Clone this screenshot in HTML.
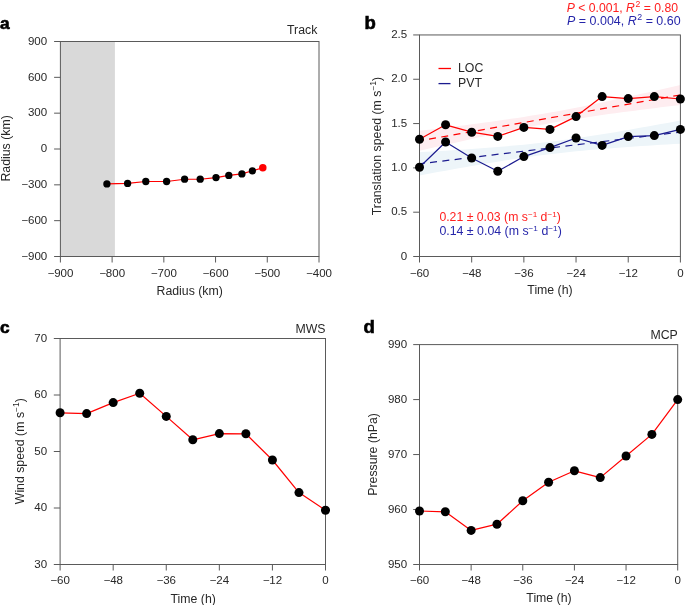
<!DOCTYPE html>
<html><head><meta charset="utf-8"><style>
html,body{margin:0;padding:0;background:#fff;}
body{width:685px;height:605px;overflow:hidden;}
svg{display:block;font-family:"Liberation Sans",sans-serif;will-change:transform;}
</style></head><body>
<svg width="685" height="605" viewBox="0 0 685 605">
<rect x="60.4" y="41.5" width="54.5" height="215" fill="#d9d9d9"/>
<rect x="60.4" y="41.5" width="258.6" height="215" fill="none" stroke="#5a5a5a" stroke-width="1"/>
<line x1="54.1" y1="41.5" x2="60.4" y2="41.5" stroke="#5a5a5a" stroke-width="1"/>
<text transform="translate(47.2,44.7) scale(1.1,1)" font-size="10.5" text-anchor="end" fill="#282828" font-weight="normal">900</text>
<line x1="54.1" y1="77.33" x2="60.4" y2="77.33" stroke="#5a5a5a" stroke-width="1"/>
<text transform="translate(47.2,80.53) scale(1.1,1)" font-size="10.5" text-anchor="end" fill="#282828" font-weight="normal">600</text>
<line x1="54.1" y1="113.17" x2="60.4" y2="113.17" stroke="#5a5a5a" stroke-width="1"/>
<text transform="translate(47.2,116.37) scale(1.1,1)" font-size="10.5" text-anchor="end" fill="#282828" font-weight="normal">300</text>
<line x1="54.1" y1="149" x2="60.4" y2="149" stroke="#5a5a5a" stroke-width="1"/>
<text transform="translate(47.2,152.2) scale(1.1,1)" font-size="10.5" text-anchor="end" fill="#282828" font-weight="normal">0</text>
<line x1="54.1" y1="184.83" x2="60.4" y2="184.83" stroke="#5a5a5a" stroke-width="1"/>
<text transform="translate(47.2,188.03) scale(1.1,1)" font-size="10.5" text-anchor="end" fill="#282828" font-weight="normal">−300</text>
<line x1="54.1" y1="220.67" x2="60.4" y2="220.67" stroke="#5a5a5a" stroke-width="1"/>
<text transform="translate(47.2,223.87) scale(1.1,1)" font-size="10.5" text-anchor="end" fill="#282828" font-weight="normal">−600</text>
<line x1="54.1" y1="256.5" x2="60.4" y2="256.5" stroke="#5a5a5a" stroke-width="1"/>
<text transform="translate(47.2,259.7) scale(1.1,1)" font-size="10.5" text-anchor="end" fill="#282828" font-weight="normal">−900</text>
<line x1="60.4" y1="256.5" x2="60.4" y2="262.5" stroke="#5a5a5a" stroke-width="1"/>
<text transform="translate(60.4,276.6) scale(1.1,1)" font-size="10.5" text-anchor="middle" fill="#282828" font-weight="normal">−900</text>
<line x1="112.12" y1="256.5" x2="112.12" y2="262.5" stroke="#5a5a5a" stroke-width="1"/>
<text transform="translate(112.12,276.6) scale(1.1,1)" font-size="10.5" text-anchor="middle" fill="#282828" font-weight="normal">−800</text>
<line x1="163.84" y1="256.5" x2="163.84" y2="262.5" stroke="#5a5a5a" stroke-width="1"/>
<text transform="translate(163.84,276.6) scale(1.1,1)" font-size="10.5" text-anchor="middle" fill="#282828" font-weight="normal">−700</text>
<line x1="215.56" y1="256.5" x2="215.56" y2="262.5" stroke="#5a5a5a" stroke-width="1"/>
<text transform="translate(215.56,276.6) scale(1.1,1)" font-size="10.5" text-anchor="middle" fill="#282828" font-weight="normal">−600</text>
<line x1="267.28" y1="256.5" x2="267.28" y2="262.5" stroke="#5a5a5a" stroke-width="1"/>
<text transform="translate(267.28,276.6) scale(1.1,1)" font-size="10.5" text-anchor="middle" fill="#282828" font-weight="normal">−500</text>
<line x1="319" y1="256.5" x2="319" y2="262.5" stroke="#5a5a5a" stroke-width="1"/>
<text transform="translate(319,276.6) scale(1.1,1)" font-size="10.5" text-anchor="middle" fill="#282828" font-weight="normal">−400</text>
<text x="189.7" y="295" font-size="12.3" text-anchor="middle" fill="#282828" font-weight="normal">Radius (km)</text>
<text transform="translate(10.2,148.4) rotate(-90)" font-size="12.3" text-anchor="middle" fill="#282828">Radius (km)</text>
<text x="302.2" y="34.05" font-size="12.3" text-anchor="middle" fill="#282828" font-weight="normal">Track</text>
<text transform="translate(-0.1,28.7) scale(1.06,1)" font-size="16.3" text-anchor="start" fill="#000" font-weight="bold" stroke="#000" stroke-width="0.6">a</text>
<polyline points="106.9,183.9 127.6,183.4 145.8,181.5 166.6,181.5 184.6,179.2 200.2,179.2 216,177.6 228.8,175.4 241.9,173.9 252.4,170.8 262.8,167.8" fill="none" stroke="#ff0000" stroke-width="1.1" stroke-linejoin="round"/>
<circle cx="106.9" cy="183.9" r="3.65" fill="#000"/>
<circle cx="127.6" cy="183.4" r="3.65" fill="#000"/>
<circle cx="145.8" cy="181.5" r="3.65" fill="#000"/>
<circle cx="166.6" cy="181.5" r="3.65" fill="#000"/>
<circle cx="184.6" cy="179.2" r="3.65" fill="#000"/>
<circle cx="200.2" cy="179.2" r="3.65" fill="#000"/>
<circle cx="216" cy="177.6" r="3.65" fill="#000"/>
<circle cx="228.8" cy="175.4" r="3.65" fill="#000"/>
<circle cx="241.9" cy="173.9" r="3.65" fill="#000"/>
<circle cx="252.4" cy="170.8" r="3.65" fill="#000"/>
<circle cx="262.8" cy="167.8" r="3.75" fill="#ff0000"/>
<path d="M419.5,130.85 L426.02,130.05 L432.55,129.25 L439.07,128.45 L445.59,127.64 L452.11,126.82 L458.63,125.99 L465.16,125.15 L471.68,124.3 L478.2,123.43 L484.73,122.55 L491.25,121.66 L497.77,120.75 L504.29,119.82 L510.81,118.86 L517.34,117.88 L523.86,116.88 L530.38,115.84 L536.9,114.77 L543.43,113.68 L549.95,112.55 L556.47,111.38 L563,110.18 L569.52,108.95 L576.04,107.69 L582.56,106.4 L589.09,105.09 L595.61,103.75 L602.13,102.38 L608.65,101 L615.17,99.6 L621.7,98.18 L628.22,96.75 L634.74,95.31 L641.26,93.85 L647.79,92.38 L654.31,90.91 L660.83,89.43 L667.36,87.94 L673.88,86.44 L680.4,84.94 L680.4,104.94 L673.88,105.73 L667.36,106.53 L660.83,107.33 L654.31,108.15 L647.79,108.97 L641.26,109.8 L634.74,110.64 L628.22,111.49 L621.7,112.35 L615.17,113.23 L608.65,114.12 L602.13,115.03 L595.61,115.97 L589.09,116.92 L582.56,117.9 L576.04,118.91 L569.52,119.94 L563,121.01 L556.47,122.11 L549.95,123.24 L543.43,124.4 L536.9,125.6 L530.38,126.83 L523.86,128.09 L517.34,129.38 L510.81,130.69 L504.29,132.03 L497.77,133.4 L491.25,134.78 L484.73,136.18 L478.2,137.6 L471.68,139.03 L465.16,140.48 L458.63,141.93 L452.11,143.4 L445.59,144.87 L439.07,146.36 L432.55,147.85 L426.02,149.34 L419.5,150.85Z" fill="#feedf0"/>
<path d="M419.5,152.23 L426.02,151.85 L432.55,151.46 L439.07,151.06 L445.59,150.66 L452.11,150.24 L458.63,149.82 L465.16,149.38 L471.68,148.94 L478.2,148.47 L484.73,147.99 L491.25,147.49 L497.77,146.97 L504.29,146.43 L510.81,145.86 L517.34,145.26 L523.86,144.63 L530.38,143.97 L536.9,143.27 L543.43,142.54 L549.95,141.76 L556.47,140.95 L563,140.1 L569.52,139.21 L576.04,138.29 L582.56,137.33 L589.09,136.34 L595.61,135.32 L602.13,134.28 L608.65,133.22 L615.17,132.13 L621.7,131.02 L628.22,129.9 L634.74,128.76 L641.26,127.61 L647.79,126.45 L654.31,125.27 L660.83,124.09 L667.36,122.9 L673.88,121.7 L680.4,120.5 L680.4,143.7 L673.88,144.08 L667.36,144.47 L660.83,144.87 L654.31,145.27 L647.79,145.68 L641.26,146.11 L634.74,146.54 L628.22,146.99 L621.7,147.46 L615.17,147.94 L608.65,148.43 L602.13,148.95 L595.61,149.5 L589.09,150.07 L582.56,150.67 L576.04,151.29 L569.52,151.96 L563,152.65 L556.47,153.39 L549.95,154.16 L543.43,154.98 L536.9,155.83 L530.38,156.72 L523.86,157.64 L517.34,158.6 L510.81,159.59 L504.29,160.6 L497.77,161.65 L491.25,162.71 L484.73,163.8 L478.2,164.91 L471.68,166.03 L465.16,167.17 L458.63,168.32 L452.11,169.48 L445.59,170.65 L439.07,171.83 L432.55,173.03 L426.02,174.22 L419.5,175.43Z" fill="#edf5f9"/>
<rect x="419.5" y="34.95" width="260.9" height="221.55" fill="none" stroke="#5a5a5a" stroke-width="1"/>
<line x1="413.2" y1="34.95" x2="419.5" y2="34.95" stroke="#5a5a5a" stroke-width="1"/>
<text transform="translate(407.2,38.15) scale(1.1,1)" font-size="10.5" text-anchor="end" fill="#282828" font-weight="normal">2.5</text>
<line x1="413.2" y1="79.26" x2="419.5" y2="79.26" stroke="#5a5a5a" stroke-width="1"/>
<text transform="translate(407.2,82.46) scale(1.1,1)" font-size="10.5" text-anchor="end" fill="#282828" font-weight="normal">2.0</text>
<line x1="413.2" y1="123.57" x2="419.5" y2="123.57" stroke="#5a5a5a" stroke-width="1"/>
<text transform="translate(407.2,126.77) scale(1.1,1)" font-size="10.5" text-anchor="end" fill="#282828" font-weight="normal">1.5</text>
<line x1="413.2" y1="167.88" x2="419.5" y2="167.88" stroke="#5a5a5a" stroke-width="1"/>
<text transform="translate(407.2,171.08) scale(1.1,1)" font-size="10.5" text-anchor="end" fill="#282828" font-weight="normal">1.0</text>
<line x1="413.2" y1="212.19" x2="419.5" y2="212.19" stroke="#5a5a5a" stroke-width="1"/>
<text transform="translate(407.2,215.39) scale(1.1,1)" font-size="10.5" text-anchor="end" fill="#282828" font-weight="normal">0.5</text>
<line x1="413.2" y1="256.5" x2="419.5" y2="256.5" stroke="#5a5a5a" stroke-width="1"/>
<text transform="translate(407.2,259.7) scale(1.1,1)" font-size="10.5" text-anchor="end" fill="#282828" font-weight="normal">0</text>
<line x1="419.5" y1="256.5" x2="419.5" y2="262.5" stroke="#5a5a5a" stroke-width="1"/>
<text transform="translate(419.5,276.6) scale(1.1,1)" font-size="10.5" text-anchor="middle" fill="#282828" font-weight="normal">−60</text>
<line x1="471.68" y1="256.5" x2="471.68" y2="262.5" stroke="#5a5a5a" stroke-width="1"/>
<text transform="translate(471.68,276.6) scale(1.1,1)" font-size="10.5" text-anchor="middle" fill="#282828" font-weight="normal">−48</text>
<line x1="523.86" y1="256.5" x2="523.86" y2="262.5" stroke="#5a5a5a" stroke-width="1"/>
<text transform="translate(523.86,276.6) scale(1.1,1)" font-size="10.5" text-anchor="middle" fill="#282828" font-weight="normal">−36</text>
<line x1="576.04" y1="256.5" x2="576.04" y2="262.5" stroke="#5a5a5a" stroke-width="1"/>
<text transform="translate(576.04,276.6) scale(1.1,1)" font-size="10.5" text-anchor="middle" fill="#282828" font-weight="normal">−24</text>
<line x1="628.22" y1="256.5" x2="628.22" y2="262.5" stroke="#5a5a5a" stroke-width="1"/>
<text transform="translate(628.22,276.6) scale(1.1,1)" font-size="10.5" text-anchor="middle" fill="#282828" font-weight="normal">−12</text>
<line x1="680.4" y1="256.5" x2="680.4" y2="262.5" stroke="#5a5a5a" stroke-width="1"/>
<text transform="translate(680.4,276.6) scale(1.1,1)" font-size="10.5" text-anchor="middle" fill="#282828" font-weight="normal">0</text>
<text x="550" y="294.4" font-size="12.3" text-anchor="middle" fill="#282828" font-weight="normal">Time (h)</text>
<text transform="translate(380.6,146) rotate(-90)" font-size="12.3" text-anchor="middle" fill="#282828">Translation speed (m s<tspan dy="-5" font-size="8.5">−1</tspan><tspan dy="5">)</tspan></text>
<text transform="translate(364.4,28.6) scale(1.06,1)" font-size="17.5" text-anchor="start" fill="#000" font-weight="bold" stroke="#000" stroke-width="0.6">b</text>
<line x1="419.5" y1="140.85" x2="680.4" y2="94.94" stroke="#ff0000" stroke-width="1.2" stroke-dasharray="7 5.4" stroke-dashoffset="2.7"/>
<line x1="419.5" y1="163.83" x2="680.4" y2="132.1" stroke="#1b1b8f" stroke-width="1.2" stroke-dasharray="7 5.4" stroke-dashoffset="1.8"/>
<polyline points="419.5,139.2 445.59,124.8 471.68,132.2 497.77,136.4 523.86,127.4 549.95,129.4 576.04,116.6 602.13,96.6 628.22,98.6 654.31,96.6 680.4,99" fill="none" stroke="#ff0000" stroke-width="1.2" stroke-linejoin="round"/>
<polyline points="419.5,167.2 445.59,142 471.68,158 497.77,171.2 523.86,156.6 549.95,147.6 576.04,138 602.13,145.4 628.22,136.6 654.31,135.6 680.4,129.4" fill="none" stroke="#1b1b8f" stroke-width="1.2" stroke-linejoin="round"/>
<circle cx="419.5" cy="139.2" r="4.5" fill="#000"/>
<circle cx="445.59" cy="124.8" r="4.5" fill="#000"/>
<circle cx="471.68" cy="132.2" r="4.5" fill="#000"/>
<circle cx="497.77" cy="136.4" r="4.5" fill="#000"/>
<circle cx="523.86" cy="127.4" r="4.5" fill="#000"/>
<circle cx="549.95" cy="129.4" r="4.5" fill="#000"/>
<circle cx="576.04" cy="116.6" r="4.5" fill="#000"/>
<circle cx="602.13" cy="96.6" r="4.5" fill="#000"/>
<circle cx="628.22" cy="98.6" r="4.5" fill="#000"/>
<circle cx="654.31" cy="96.6" r="4.5" fill="#000"/>
<circle cx="680.4" cy="99" r="4.5" fill="#000"/>
<circle cx="419.5" cy="167.2" r="4.5" fill="#000"/>
<circle cx="445.59" cy="142" r="4.5" fill="#000"/>
<circle cx="471.68" cy="158" r="4.5" fill="#000"/>
<circle cx="497.77" cy="171.2" r="4.5" fill="#000"/>
<circle cx="523.86" cy="156.6" r="4.5" fill="#000"/>
<circle cx="549.95" cy="147.6" r="4.5" fill="#000"/>
<circle cx="576.04" cy="138" r="4.5" fill="#000"/>
<circle cx="602.13" cy="145.4" r="4.5" fill="#000"/>
<circle cx="628.22" cy="136.6" r="4.5" fill="#000"/>
<circle cx="654.31" cy="135.6" r="4.5" fill="#000"/>
<circle cx="680.4" cy="129.4" r="4.5" fill="#000"/>
<line x1="438.5" y1="68.5" x2="451" y2="68.5" stroke="#ff0000" stroke-width="1.3"/>
<line x1="438.5" y1="83.6" x2="450.5" y2="83.6" stroke="#1b1b8f" stroke-width="1.3"/>
<text x="458" y="72.4" font-size="12.3" text-anchor="start" fill="#282828" font-weight="normal">LOC</text>
<text x="458" y="87.3" font-size="12.3" text-anchor="start" fill="#282828" font-weight="normal">PVT</text>
<text transform="translate(678,11.5) scale(1.018,1)" font-size="12" text-anchor="end" fill="#ff2020"><tspan font-style="italic">P</tspan> &lt; 0.001, <tspan font-style="italic">R</tspan><tspan dy="-5" dx="0.6" font-size="8.5">2</tspan><tspan dy="5"> = 0.80</tspan></text>
<text transform="translate(680.6,25.4) scale(1.038,1)" font-size="12" text-anchor="end" fill="#2626aa"><tspan font-style="italic">P</tspan> = 0.004, <tspan font-style="italic">R</tspan><tspan dy="-5" dx="0.6" font-size="8.5">2</tspan><tspan dy="5"> = 0.60</tspan></text>
<text transform="translate(439.4,220.6) scale(1.022,1)" font-size="12" fill="#ff2020">0.21 ± 0.03 (m s<tspan dy="-4" font-size="8">−1</tspan><tspan dy="4"> d</tspan><tspan dy="-4" font-size="8">−1</tspan><tspan dy="4">)</tspan></text>
<text transform="translate(439.4,235) scale(1.03,1)" font-size="12" fill="#2626aa">0.14 ± 0.04 (m s<tspan dy="-4" font-size="8">−1</tspan><tspan dy="4"> d</tspan><tspan dy="-4" font-size="8">−1</tspan><tspan dy="4">)</tspan></text>
<rect x="60.1" y="338.5" width="265.4" height="226" fill="none" stroke="#5a5a5a" stroke-width="1"/>
<line x1="53.8" y1="338.5" x2="60.1" y2="338.5" stroke="#5a5a5a" stroke-width="1"/>
<text transform="translate(47.2,341.7) scale(1.1,1)" font-size="10.5" text-anchor="end" fill="#282828" font-weight="normal">70</text>
<line x1="53.8" y1="395" x2="60.1" y2="395" stroke="#5a5a5a" stroke-width="1"/>
<text transform="translate(47.2,398.2) scale(1.1,1)" font-size="10.5" text-anchor="end" fill="#282828" font-weight="normal">60</text>
<line x1="53.8" y1="451.5" x2="60.1" y2="451.5" stroke="#5a5a5a" stroke-width="1"/>
<text transform="translate(47.2,454.7) scale(1.1,1)" font-size="10.5" text-anchor="end" fill="#282828" font-weight="normal">50</text>
<line x1="53.8" y1="508" x2="60.1" y2="508" stroke="#5a5a5a" stroke-width="1"/>
<text transform="translate(47.2,511.2) scale(1.1,1)" font-size="10.5" text-anchor="end" fill="#282828" font-weight="normal">40</text>
<line x1="53.8" y1="564.5" x2="60.1" y2="564.5" stroke="#5a5a5a" stroke-width="1"/>
<text transform="translate(47.2,567.7) scale(1.1,1)" font-size="10.5" text-anchor="end" fill="#282828" font-weight="normal">30</text>
<line x1="60.1" y1="564.5" x2="60.1" y2="570.5" stroke="#5a5a5a" stroke-width="1"/>
<text transform="translate(60.1,584.2) scale(1.1,1)" font-size="10.5" text-anchor="middle" fill="#282828" font-weight="normal">−60</text>
<line x1="113.18" y1="564.5" x2="113.18" y2="570.5" stroke="#5a5a5a" stroke-width="1"/>
<text transform="translate(113.18,584.2) scale(1.1,1)" font-size="10.5" text-anchor="middle" fill="#282828" font-weight="normal">−48</text>
<line x1="166.26" y1="564.5" x2="166.26" y2="570.5" stroke="#5a5a5a" stroke-width="1"/>
<text transform="translate(166.26,584.2) scale(1.1,1)" font-size="10.5" text-anchor="middle" fill="#282828" font-weight="normal">−36</text>
<line x1="219.34" y1="564.5" x2="219.34" y2="570.5" stroke="#5a5a5a" stroke-width="1"/>
<text transform="translate(219.34,584.2) scale(1.1,1)" font-size="10.5" text-anchor="middle" fill="#282828" font-weight="normal">−24</text>
<line x1="272.42" y1="564.5" x2="272.42" y2="570.5" stroke="#5a5a5a" stroke-width="1"/>
<text transform="translate(272.42,584.2) scale(1.1,1)" font-size="10.5" text-anchor="middle" fill="#282828" font-weight="normal">−12</text>
<line x1="325.5" y1="564.5" x2="325.5" y2="570.5" stroke="#5a5a5a" stroke-width="1"/>
<text transform="translate(325.5,584.2) scale(1.1,1)" font-size="10.5" text-anchor="middle" fill="#282828" font-weight="normal">0</text>
<text x="193.2" y="603" font-size="12.3" text-anchor="middle" fill="#282828" font-weight="normal">Time (h)</text>
<text transform="translate(23.8,451.2) rotate(-90)" font-size="12.3" text-anchor="middle" fill="#282828">Wind speed (m s<tspan dy="-5" font-size="8.5">−1</tspan><tspan dy="5">)</tspan></text>
<text x="310.5" y="332.6" font-size="12.3" text-anchor="middle" fill="#282828" font-weight="normal">MWS</text>
<text transform="translate(-0.1,332.9) scale(1.06,1)" font-size="16.3" text-anchor="start" fill="#000" font-weight="bold" stroke="#000" stroke-width="0.6">c</text>
<polyline points="60.1,412.8 86.64,413.6 113.18,402.6 139.72,393.2 166.26,416.4 192.8,439.8 219.34,433.6 245.88,433.8 272.42,460 298.96,492.6 325.5,510.2" fill="none" stroke="#ff0000" stroke-width="1.2" stroke-linejoin="round"/>
<circle cx="60.1" cy="412.8" r="4.5" fill="#000"/>
<circle cx="86.64" cy="413.6" r="4.5" fill="#000"/>
<circle cx="113.18" cy="402.6" r="4.5" fill="#000"/>
<circle cx="139.72" cy="393.2" r="4.5" fill="#000"/>
<circle cx="166.26" cy="416.4" r="4.5" fill="#000"/>
<circle cx="192.8" cy="439.8" r="4.5" fill="#000"/>
<circle cx="219.34" cy="433.6" r="4.5" fill="#000"/>
<circle cx="245.88" cy="433.8" r="4.5" fill="#000"/>
<circle cx="272.42" cy="460" r="4.5" fill="#000"/>
<circle cx="298.96" cy="492.6" r="4.5" fill="#000"/>
<circle cx="325.5" cy="510.2" r="4.5" fill="#000"/>
<rect x="419.5" y="344.6" width="258.2" height="219.9" fill="none" stroke="#5a5a5a" stroke-width="1"/>
<line x1="413.2" y1="344.6" x2="419.5" y2="344.6" stroke="#5a5a5a" stroke-width="1"/>
<text transform="translate(407.2,347.8) scale(1.1,1)" font-size="10.5" text-anchor="end" fill="#282828" font-weight="normal">990</text>
<line x1="413.2" y1="399.58" x2="419.5" y2="399.58" stroke="#5a5a5a" stroke-width="1"/>
<text transform="translate(407.2,402.78) scale(1.1,1)" font-size="10.5" text-anchor="end" fill="#282828" font-weight="normal">980</text>
<line x1="413.2" y1="454.55" x2="419.5" y2="454.55" stroke="#5a5a5a" stroke-width="1"/>
<text transform="translate(407.2,457.75) scale(1.1,1)" font-size="10.5" text-anchor="end" fill="#282828" font-weight="normal">970</text>
<line x1="413.2" y1="509.52" x2="419.5" y2="509.52" stroke="#5a5a5a" stroke-width="1"/>
<text transform="translate(407.2,512.73) scale(1.1,1)" font-size="10.5" text-anchor="end" fill="#282828" font-weight="normal">960</text>
<line x1="413.2" y1="564.5" x2="419.5" y2="564.5" stroke="#5a5a5a" stroke-width="1"/>
<text transform="translate(407.2,567.7) scale(1.1,1)" font-size="10.5" text-anchor="end" fill="#282828" font-weight="normal">950</text>
<line x1="419.5" y1="564.5" x2="419.5" y2="570.5" stroke="#5a5a5a" stroke-width="1"/>
<text transform="translate(419.5,584.2) scale(1.1,1)" font-size="10.5" text-anchor="middle" fill="#282828" font-weight="normal">−60</text>
<line x1="471.14" y1="564.5" x2="471.14" y2="570.5" stroke="#5a5a5a" stroke-width="1"/>
<text transform="translate(471.14,584.2) scale(1.1,1)" font-size="10.5" text-anchor="middle" fill="#282828" font-weight="normal">−48</text>
<line x1="522.78" y1="564.5" x2="522.78" y2="570.5" stroke="#5a5a5a" stroke-width="1"/>
<text transform="translate(522.78,584.2) scale(1.1,1)" font-size="10.5" text-anchor="middle" fill="#282828" font-weight="normal">−36</text>
<line x1="574.42" y1="564.5" x2="574.42" y2="570.5" stroke="#5a5a5a" stroke-width="1"/>
<text transform="translate(574.42,584.2) scale(1.1,1)" font-size="10.5" text-anchor="middle" fill="#282828" font-weight="normal">−24</text>
<line x1="626.06" y1="564.5" x2="626.06" y2="570.5" stroke="#5a5a5a" stroke-width="1"/>
<text transform="translate(626.06,584.2) scale(1.1,1)" font-size="10.5" text-anchor="middle" fill="#282828" font-weight="normal">−12</text>
<line x1="677.7" y1="564.5" x2="677.7" y2="570.5" stroke="#5a5a5a" stroke-width="1"/>
<text transform="translate(677.7,584.2) scale(1.1,1)" font-size="10.5" text-anchor="middle" fill="#282828" font-weight="normal">0</text>
<text x="549" y="602.4" font-size="12.3" text-anchor="middle" fill="#282828" font-weight="normal">Time (h)</text>
<text transform="translate(376.6,454.4) rotate(-90)" font-size="12.3" text-anchor="middle" fill="#282828">Pressure (hPa)</text>
<text x="664.1" y="338.6" font-size="12.3" text-anchor="middle" fill="#282828" font-weight="normal">MCP</text>
<text transform="translate(363.4,332.6) scale(1.06,1)" font-size="17.5" text-anchor="start" fill="#000" font-weight="bold" stroke="#000" stroke-width="0.6">d</text>
<polyline points="419.5,511 445.32,511.8 471.14,530.4 496.96,524.2 522.78,500.8 548.6,482.2 574.42,470.8 600.24,477.6 626.06,456 651.88,434.4 677.7,399.6" fill="none" stroke="#ff0000" stroke-width="1.2" stroke-linejoin="round"/>
<circle cx="419.5" cy="511" r="4.5" fill="#000"/>
<circle cx="445.32" cy="511.8" r="4.5" fill="#000"/>
<circle cx="471.14" cy="530.4" r="4.5" fill="#000"/>
<circle cx="496.96" cy="524.2" r="4.5" fill="#000"/>
<circle cx="522.78" cy="500.8" r="4.5" fill="#000"/>
<circle cx="548.6" cy="482.2" r="4.5" fill="#000"/>
<circle cx="574.42" cy="470.8" r="4.5" fill="#000"/>
<circle cx="600.24" cy="477.6" r="4.5" fill="#000"/>
<circle cx="626.06" cy="456" r="4.5" fill="#000"/>
<circle cx="651.88" cy="434.4" r="4.5" fill="#000"/>
<circle cx="677.7" cy="399.6" r="4.5" fill="#000"/>
</svg>
</body></html>
